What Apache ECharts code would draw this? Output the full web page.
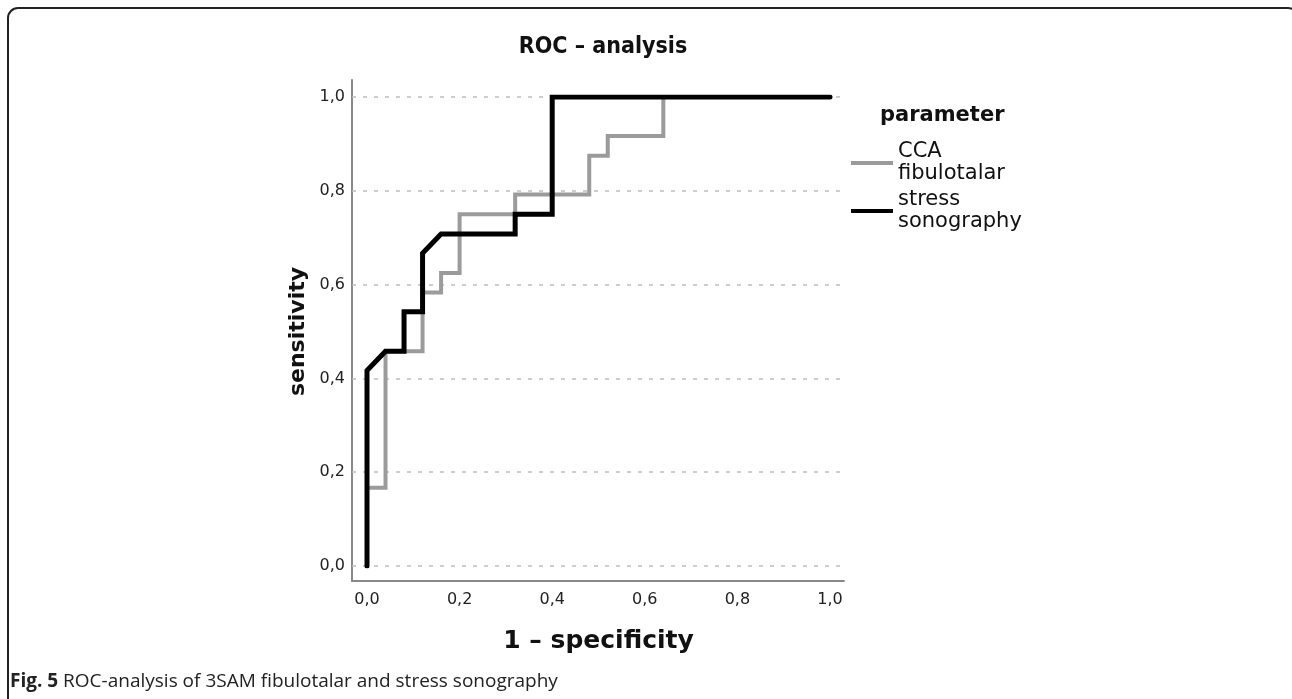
<!DOCTYPE html>
<html>
<head>
<meta charset="utf-8">
<title>ROC - analysis</title>
<script src="https://cdn.jsdelivr.net/npm/echarts@6/dist/echarts.min.js"></script>
<style>
  html, body { margin: 0; padding: 0; background: #fff; }
  #main { width: 1292px; height: 699px; }
</style>
</head>
<body>
<div id="main"></div>
<script>
// ROC curve data (1 - specificity, sensitivity)
var cca_x = [0, 0, 0.04, 0.04, 0.12, 0.12, 0.16, 0.16, 0.20, 0.20, 0.32, 0.32, 0.48, 0.48, 0.52, 0.52, 0.64, 0.64, 1.0];
var cca_y = [0, 0.167, 0.167, 0.458, 0.458, 0.583, 0.583, 0.625, 0.625, 0.75, 0.75, 0.792, 0.792, 0.875, 0.875, 0.917, 0.917, 1.0, 1.0];

var stress_x = [0, 0, 0.04, 0.08, 0.08, 0.12, 0.12, 0.16, 0.32, 0.32, 0.40, 0.40, 1.0];
var stress_y = [0, 0.417, 0.458, 0.458, 0.542, 0.542, 0.667, 0.708, 0.708, 0.75, 0.75, 1.0, 1.0];

var seriesNames = ['CCA\nfibulotalar', 'stress\nsonography'];
var tickValues = [0, 0.2, 0.4, 0.6, 0.8, 1.0];
var tickLabels = ['0,0', '0,2', '0,4', '0,6', '0,8', '1,0'];

var FONT = 'DejaVu Sans';

function pairs(xs, ys) {
  var out = [];
  for (var i = 0; i < xs.length; i++) {
    out.push([xs[i], ys[i]]);
  }
  return out;
}

function tickLabel(v) {
  var i = Math.round(v / 0.2);
  return tickLabels[i] || '';
}

var chart = echarts.init(document.getElementById('main'), null, { renderer: 'canvas' });

var option = {
  animation: false,
  backgroundColor: '#fff',
  title: [
    {
      text: 'ROC – analysis',
      left: 598,
      top: 31,
      textAlign: 'center',
      textStyle: { fontFamily: "'DejaVu Sans Condensed', 'DejaVu Sans'", fontWeight: 'bold', fontSize: 23, color: '#111' }
    },
    {
      text: 'parameter',
      left: 880,
      top: 105,
      padding: 0,
      textStyle: { fontFamily: FONT, fontWeight: 'bold', fontSize: 21, color: '#111' }
    }
  ],
  legend: {
    data: seriesNames,
    orient: 'vertical',
    left: 851,
    top: 141,
    padding: 0,
    itemWidth: 42,
    itemHeight: 4,
    itemGap: 4,
    icon: 'rect',
    textStyle: { fontFamily: FONT, fontSize: 21, lineHeight: 22, color: '#111' }
  },
  grid: [
    // plot grid, data 0..1
    { left: 367, right: 462, top: 97, bottom: 133, containLabel: false },
    // outer grid for axis lines and dotted grid lines
    { left: 352, right: 448, top: 80, bottom: 118, containLabel: false }
  ],
  xAxis: [
    {
      type: 'value',
      gridIndex: 0,
      min: 0,
      max: 1,
      interval: 0.2,
      axisLine: { show: false },
      axisTick: { show: false },
      splitLine: { show: false },
      axisLabel: {
        formatter: tickLabel,
        margin: 26,
        fontFamily: FONT,
        fontSize: 16,
        color: '#222'
      },
      name: '1 – specificity',
      nameLocation: 'middle',
      nameGap: 63,
      nameTextStyle: { fontFamily: FONT, fontWeight: 'bold', fontSize: 25, color: '#111' }
    },
    {
      type: 'value',
      gridIndex: 1,
      min: -0.0324,
      max: 1.03,
      axisLine: { show: true, onZero: false, lineStyle: { color: '#888', width: 2 } },
      axisTick: { show: false },
      axisLabel: { show: false },
      splitLine: { show: false }
    }
  ],
  yAxis: [
    {
      type: 'value',
      gridIndex: 0,
      min: 0,
      max: 1,
      interval: 0.2,
      axisLine: { show: false },
      axisTick: { show: false },
      splitLine: { show: false },
      axisLabel: {
        formatter: tickLabel,
        margin: 22,
        fontFamily: FONT,
        fontSize: 16,
        color: '#222'
      },
      name: 'sensitivity',
      nameLocation: 'middle',
      nameRotate: 90,
      nameGap: 58,
      nameTextStyle: { fontFamily: FONT, fontWeight: 'bold', fontSize: 22, color: '#111' }
    },
    {
      type: 'value',
      gridIndex: 1,
      min: -0.032,
      max: 1.036,
      axisLine: { show: true, onZero: false, lineStyle: { color: '#888', width: 2 } },
      axisTick: { show: false },
      axisLabel: { show: false },
      splitLine: { show: false }
    }
  ],
  series: [
    {
      // dotted reference lines across the whole frame
      name: 'grid',
      type: 'line',
      xAxisIndex: 1,
      yAxisIndex: 1,
      data: [],
      silent: true,
      z: 1,
      markLine: {
        silent: true,
        z: 1,
        symbol: 'none',
        label: { show: false },
        lineStyle: { type: [4, 7], color: '#bdbdbd', width: 1.5 },
        data: tickValues.map(function (v) { return { yAxis: v }; })
      }
    },
    {
      name: seriesNames[0],
      type: 'line',
      xAxisIndex: 0,
      yAxisIndex: 0,
      data: pairs(cca_x, cca_y),
      symbol: 'none',
      z: 3,
      color: '#9b9b9b',
      lineStyle: { color: '#9b9b9b', width: 4, join: 'miter' }
    },
    {
      name: seriesNames[1],
      type: 'line',
      xAxisIndex: 0,
      yAxisIndex: 0,
      data: pairs(stress_x, stress_y),
      symbol: 'none',
      z: 4,
      color: '#000',
      lineStyle: { color: '#000', width: 5, join: 'miter', cap: 'round' }
    }
  ],
  graphic: [
    {
      type: 'rect',
      silent: true,
      z: 0,
      shape: { x: 8, y: 8, width: 1290, height: 720, r: 10 },
      style: { fill: 'none', stroke: '#222', lineWidth: 2 }
    },
    {
      type: 'text',
      silent: true,
      x: 10,
      y: 682,
      style: {
        text: '{b|Fig. 5} ROC-analysis of 3SAM fibulotalar and stress sonography',
        fontFamily: 'Open Sans',
        fontSize: 19,
        fill: '#222',
        verticalAlign: 'middle',
        rich: {
          b: { fontFamily: 'Open Sans', fontSize: 19, fontWeight: 'bold', fill: '#222' }
        }
      }
    }
  ]
};

chart.setOption(option);
</script>
</body>
</html>
